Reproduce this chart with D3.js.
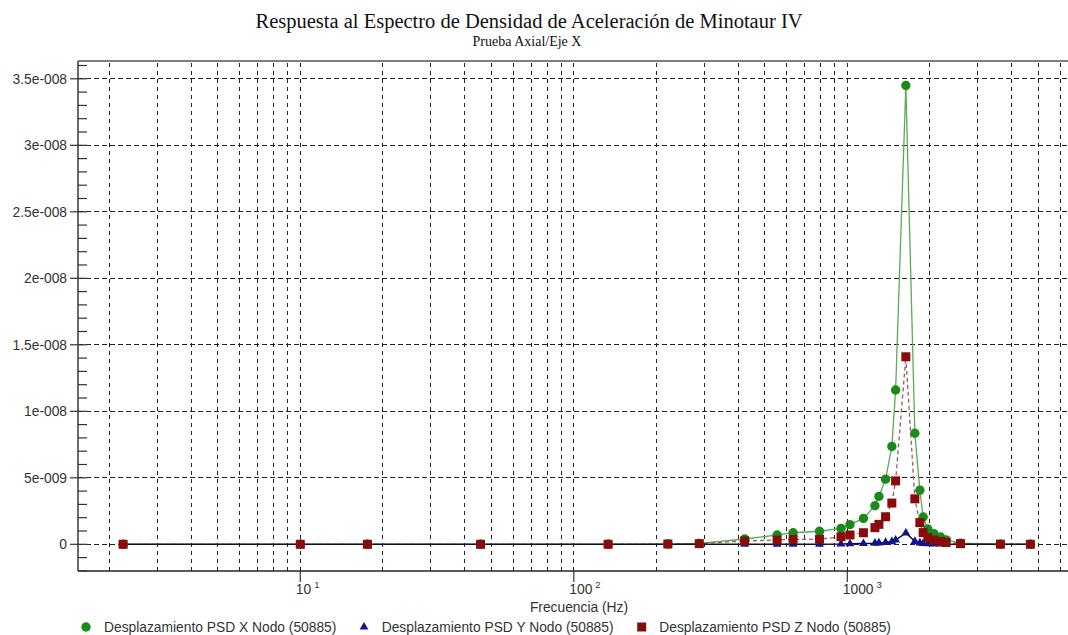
<!DOCTYPE html>
<html><head><meta charset="utf-8">
<script src="https://cdn.jsdelivr.net/npm/d3@7"></script>
<style>
html,body{margin:0;padding:0;background:#fff;overflow:hidden}
svg{display:block}
</style></head>
<body>
<svg id="c" width="1068" height="635"></svg>
<script>
// ---- data ----
const title = "Respuesta al Espectro de Densidad de Aceleración de Minotaur IV";
const subtitle = "Prueba Axial/Eje X";
const xTitle = "Frecuencia (Hz)";
const frequencies = [2.25, 10, 17.6, 45.6, 133.5, 220.8, 287.6, 421.5, 553.8, 633.7, 791.5, 948.4, 1022.8, 1145.5, 1262, 1305, 1380, 1455, 1502, 1637, 1766, 1842, 1894, 1970, 2072, 2192, 2297, 2594, 3629, 4670];
// values in units of 1e-9
const psdX = [0, 0, 0, 0, 0, 0.02, 0.07, 0.4, 0.7, 0.87, 0.98, 1.2, 1.48, 1.95, 2.9, 3.6, 4.9, 7.35, 11.6, 34.5, 8.35, 4.07, 2.05, 1.15, 0.8, 0.55, 0.33, 0.08, 0.01, 0];
const psdY = [0, 0, 0, 0, 0, 0, 0, 0, 0, 0.01, 0.01, 0.02, 0.04, 0.06, 0.08, 0.1, 0.14, 0.2, 0.32, 0.85, 0.22, 0.1, 0.06, 0.04, 0.03, 0.02, 0.01, 0, 0, 0];
const psdZ = [0, 0, 0, 0, 0, 0.02, 0.05, 0.25, 0.32, 0.37, 0.38, 0.57, 0.7, 0.87, 1.25, 1.5, 2.07, 3.1, 4.77, 14.1, 3.42, 1.63, 0.88, 0.5, 0.32, 0.22, 0.14, 0.05, 0.01, 0];
const seriesNames = ["Desplazamiento PSD X Nodo (50885)", "Desplazamiento PSD Y Nodo (50885)", "Desplazamiento PSD Z Nodo (50885)"];
const yTickValues = [0, 5e-9, 1e-8, 1.5e-8, 2e-8, 2.5e-8, 3e-8, 3.5e-8];
const yTickLabels = ["0", "5e-009", "1e-008", "1.5e-008", "2e-008", "2.5e-008", "3e-008", "3.5e-008"];
const xMajorTicks = [10, 100, 1000];
const xMajorLabels = ["10", "100", "1000"];
const xMajorExps = ["1", "2", "3"];

// ---- layout ----
const L = 78, T = 61, B = 571, R = 1085;
const svg = d3.select("#c");
const x = d3.scaleLog().domain([10, 1000]).range([300.3, 847.3]);
const y = d3.scaleLinear().domain([0, 3.5e-8]).range([544.3, 78.8]);
const sans = "Arial, 'Liberation Sans', sans-serif";
const serif = "'Times New Roman', 'Liberation Serif', serif";

svg.append("defs").append("clipPath").attr("id", "clip")
  .append("rect").attr("x", L).attr("y", T).attr("width", R - L).attr("height", B - T);

// title
svg.append("text").attr("x", 529).attr("y", 28).attr("text-anchor", "middle")
  .attr("font-family", serif).attr("font-size", 20.5).attr("fill", "#111").text(title);
svg.append("text").attr("x", 527).attr("y", 46).attr("text-anchor", "middle")
  .attr("font-family", serif).attr("font-size", 14).attr("fill", "#111").text(subtitle);

const grid = svg.append("g").attr("clip-path", "url(#clip)");
// vertical grid lines at log positions
const xGridVals = [];
for (let e = 0; e <= 4; e++) for (let d = 1; d <= 9; d++) xGridVals.push(d * Math.pow(10, e));
const xMin = x.invert(L), xMax = x.invert(R);
grid.selectAll("line.vg").data(xGridVals.filter(v => v > xMin && v < xMax)).enter().append("line")
  .attr("x1", d => x(d)).attr("x2", d => x(d)).attr("y1", T + 2).attr("y2", B)
  .attr("stroke", "#222").attr("stroke-width", 1).attr("stroke-dasharray", "4,4")
  .attr("shape-rendering", "crispEdges");
// horizontal grid lines
grid.selectAll("line.hg").data(yTickValues).enter().append("line")
  .attr("x1", L).attr("x2", R).attr("y1", d => y(d)).attr("y2", d => y(d))
  .attr("stroke", "#222").attr("stroke-width", 1).attr("stroke-dasharray", "5,3")
  .attr("shape-rendering", "crispEdges");

// frame
svg.append("line").attr("x1", L).attr("x2", R).attr("y1", T).attr("y2", T).attr("stroke", "#555").attr("stroke-width", 1.6);
svg.append("line").attr("x1", L).attr("x2", R).attr("y1", B).attr("y2", B).attr("stroke", "#222").attr("stroke-width", 1.6);
svg.append("line").attr("x1", L).attr("x2", L).attr("y1", T).attr("y2", B).attr("stroke", "#444").attr("stroke-width", 1.6);

// y axis: major ticks + labels
const yAxis = svg.append("g");
yAxis.selectAll("line.maj").data(yTickValues).enter().append("line")
  .attr("x1", 70).attr("x2", L).attr("y1", d => y(d)).attr("y2", d => y(d))
  .attr("stroke", "#333").attr("stroke-width", 1.2);
yAxis.selectAll("text").data(yTickValues).enter().append("text")
  .attr("x", 67).attr("y", d => y(d) + 5).attr("text-anchor", "end")
  .attr("font-family", sans).attr("font-size", 13.8).attr("fill", "#333")
  .text((d, i) => yTickLabels[i]);
// y minor ticks (inside) every 1e-9
const yMinor = d3.range(-2, 37).map(k => k * 1e-9).filter(v => y(v) > T && y(v) < B);
yAxis.selectAll("line.min").data(yMinor).enter().append("line")
  .attr("x1", L).attr("x2", L + 9).attr("y1", d => y(d)).attr("y2", d => y(d))
  .attr("stroke", "#333").attr("stroke-width", 1.2);

// x axis major ticks and labels
const xAxis = svg.append("g");
xAxis.selectAll("line").data(xMajorTicks).enter().append("line")
  .attr("x1", d => x(d)).attr("x2", d => x(d)).attr("y1", B).attr("y2", B + 11)
  .attr("stroke", "#333").attr("stroke-width", 1.2);
const xl = xAxis.selectAll("text").data(xMajorTicks).enter().append("text")
  .attr("x", d => x(d) - 4.5).attr("y", 593.5)
  .attr("font-family", sans).attr("font-size", 13.8).attr("fill", "#333");
xl.append("tspan").text((d, i) => xMajorLabels[i]);
xl.append("tspan").attr("dx", 3).attr("dy", -6).attr("font-size", 9.5).text((d, i) => xMajorExps[i]);
svg.append("text").attr("x", 579).attr("y", 611.5).attr("text-anchor", "middle")
  .attr("font-family", sans).attr("font-size", 13.8).attr("fill", "#333").text(xTitle);

// series
const toPts = arr => frequencies.map((f, i) => ({ f, v: arr[i] * 1e-9 }));
const dX = toPts(psdX), dY = toPts(psdY), dZ = toPts(psdZ);
const line = d3.line().x(d => x(d.f)).y(d => y(d.v));
const plot = svg.append("g").attr("clip-path", "url(#clip)");

plot.append("path").datum(dX).attr("d", line).attr("fill", "none")
  .attr("stroke", "#5aaa5a").attr("stroke-width", 1.3);
plot.append("path").datum(dZ).attr("d", line).attr("fill", "none")
  .attr("stroke", "#a05a5a").attr("stroke-width", 1.3).attr("stroke-dasharray", "4,3");
plot.append("path").datum(dY).attr("d", line).attr("fill", "none")
  .attr("stroke", "#10102a").attr("stroke-width", 1.5);

const cGreen = "#1a8a1a", cBlue = "#14148a", cRed = "#880c0c";
const triPath = d3.symbol().type(d3.symbolTriangle).size(34);
const sqSize = 9;

plot.selectAll("circle.x").data(dX).enter().append("circle")
  .attr("cx", d => x(d.f)).attr("cy", d => y(d.v)).attr("r", 4.7).attr("fill", cGreen);
plot.selectAll("path.y").data(dY).enter().append("path")
  .attr("d", triPath).attr("transform", d => `translate(${x(d.f)},${y(d.v)})`).attr("fill", cBlue);
plot.selectAll("rect.z").data(dZ).enter().append("rect")
  .attr("x", d => x(d.f) - sqSize / 2).attr("y", d => y(d.v) - sqSize / 2)
  .attr("width", sqSize).attr("height", sqSize).attr("fill", cRed);

// legend
const lg = svg.append("g").attr("font-family", sans).attr("font-size", 13.8).attr("fill", "#333");
const legendX = [86, 364, 641.7];
const legendTextX = [104, 381.7, 659.3];
const ly = 627;
lg.append("circle").attr("cx", legendX[0]).attr("cy", ly).attr("r", 4.7).attr("fill", cGreen);
lg.append("path").attr("d", triPath).attr("transform", `translate(${legendX[1]},${ly})`).attr("fill", cBlue);
lg.append("rect").attr("x", legendX[2] - sqSize / 2).attr("y", ly - sqSize / 2).attr("width", sqSize).attr("height", sqSize).attr("fill", cRed);
lg.selectAll("text").data(seriesNames).enter().append("text")
  .attr("x", (d, i) => legendTextX[i]).attr("y", 632).text(d => d);
</script>
</body></html>
